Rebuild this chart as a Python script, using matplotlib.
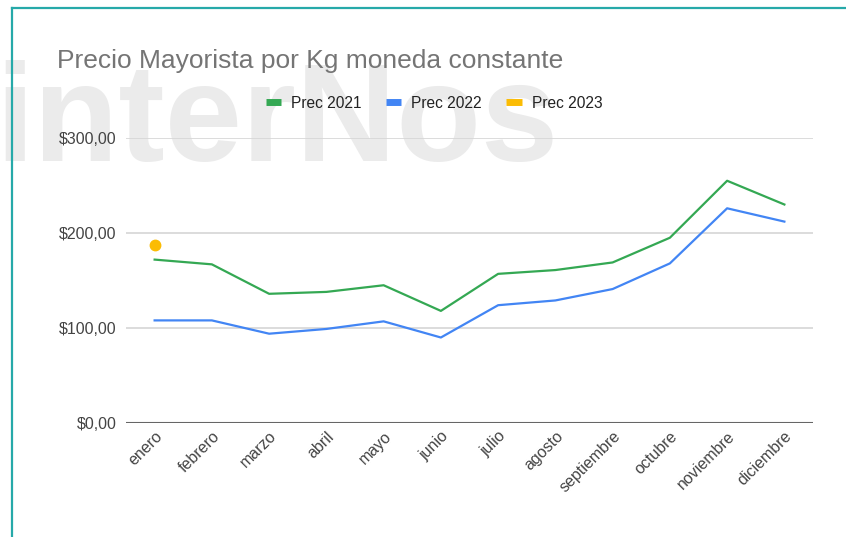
import matplotlib.pyplot as plt
from matplotlib.lines import Line2D
import numpy as np

plt.rcParams['font.family'] = ['Liberation Sans', 'DejaVu Sans']

meses = ['enero', 'febrero', 'marzo', 'abril', 'mayo', 'junio', 'julio',
         'agosto', 'septiembre', 'octubre', 'noviembre', 'diciembre']
prec_2021 = [172, 167, 136, 138, 145, 118, 157, 161, 169, 195, 255, 230]
prec_2022 = [108, 108, 94, 99, 107, 90, 124, 129, 141, 168, 226, 212]
prec_2023 = [187]

verde = '#34a853'
azul = '#4285f4'
amarillo = '#fbbc04'

fig = plt.figure(figsize=(8.46, 5.37), dpi=100)
fig.patch.set_facecolor('white')

# watermark
fig.text(-0.006, 0.70, 'interNos', fontsize=100, fontweight='bold',
         color='#ebebeb', ha='left', va='baseline', zorder=-5)

ax = fig.add_axes([126 / 846, 1 - 423 / 537, (813 - 126) / 846, 285 / 537])
ax.patch.set_visible(False)

x = np.arange(len(meses))
ax.plot(x, prec_2021, color=verde, lw=1.6, zorder=3, clip_on=False)
ax.plot(x, prec_2022, color=azul, lw=1.6, zorder=3, clip_on=False)
ax.plot(x[:len(prec_2023)], prec_2023, 'o', color=amarillo, ms=7.5, zorder=4,
        clip_on=False)

ax.set_xlim(-0.5, len(meses) - 0.5)
ax.set_ylim(0, 300)
ax.set_yticks([0, 100, 200, 300])
ax.set_yticklabels(['$0,00', '$100,00', '$200,00', '$300,00'])
ax.set_xticks(x)
ax.set_xticklabels(meses, rotation=45, ha='right', rotation_mode='anchor')
ax.tick_params(length=0, labelsize=11.5, labelcolor='#444444')
ax.tick_params(axis='y', pad=7)
ax.tick_params(axis='x', pad=4)
for s in ax.spines.values():
    s.set_visible(False)
ax.grid(axis='y', color='#d6d6d6', lw=1.2)
ax.set_axisbelow(True)
ax.axhline(0, color='#666666', lw=1.5, zorder=2)

fig.text(57 / 846, 1 - 61 / 537, 'Precio Mayorista por Kg moneda constante',
         fontsize=19, color='#757575', ha='left', va='center')

handles = [Line2D([], [], color=c, lw=5, solid_capstyle='butt')
           for c in (verde, azul, amarillo)]
fig.legend(handles, ['Prec 2021', 'Prec 2022', 'Prec 2023'], ncol=3,
           loc='center', bbox_to_anchor=(434 / 846, 1 - 103 / 537),
           frameon=False, fontsize=11.2, handlelength=1.0,
           handletextpad=0.65, columnspacing=1.55, labelcolor='#222222')

# teal frame
borde = '#26a9a9'
fig.add_artist(Line2D([12 / 846, 12 / 846], [0, 1 - 8 / 537], color=borde,
                      lw=1.6, transform=fig.transFigure))
fig.add_artist(Line2D([12 / 846, 1], [1 - 8 / 537, 1 - 8 / 537], color=borde,
                      lw=1.6, transform=fig.transFigure))

fig.savefig('out.png', dpi=100)
